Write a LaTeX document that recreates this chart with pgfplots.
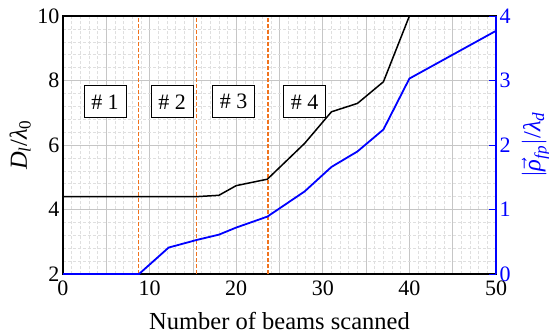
\documentclass[border=0pt]{standalone}
\usepackage{pgfplots}
\pgfplotsset{compat=1.18}
\usepackage{amsmath}
\usepackage{fontspec}
\setmainfont{Liberation Serif}
\definecolor{orng}{RGB}{240,115,30}
\begin{document}
\begin{tikzpicture}
\path[use as bounding box] (-63pt,-59pt) rectangle (486pt,274pt);
\begin{axis}[
 at={(0,0)}, anchor=south west,
 scale only axis, width=433pt, height=258pt,
 xmin=0, xmax=50, ymin=2, ymax=10,
 xtick={0,5,...,50}, xticklabels={0,,10,,20,,30,,40,,50},
 ytick={2,4,...,10},
 minor x tick num=4, minor y tick num=4,
 grid=both,
 major grid style={gray!45, line width=0.8pt},
 minor grid style={gray!25, dash pattern=on 3pt off 2pt, line width=0.6pt},
 axis line style={black, line width=1.5pt},
 tick style={draw=none},
 /pgf/number format/assume math mode=true,
 ticklabel style={font=\rmfamily\fontsize{22}{26}\selectfont},
 xticklabel style={yshift=-3pt},
 label style={font=\rmfamily\fontsize{24.5}{28}\selectfont},
 xlabel={Number of beams scanned},
 xlabel style={at={(axis description cs:0.5,0)}, anchor=base, yshift=-55pt},
 ylabel={\textit{D}$_{\text{\itshape l}}$/\textit{λ}$_{\text{0}}$},
 ylabel style={at={(axis description cs:-0.099,0.5)}, anchor=center},
 clip=true,
]
\addplot[orng, dash pattern=on 4pt off 2pt, line width=1.4pt] coordinates {(8.7,2) (8.7,10)};
\addplot[orng, dash pattern=on 4pt off 2pt, line width=1.4pt] coordinates {(15.45,2) (15.45,10)};
\addplot[orng, dash pattern=on 4pt off 2pt, line width=1.4pt] coordinates {(23.66,2) (23.66,10)};
\addplot[black, line width=1.5pt] coordinates {
(0,4.4) (8.7,4.4) (12.2,4.4) (15.5,4.4) (18,4.44) (20,4.74) (23.6,4.94)
(27.9,6.05) (31,7.03) (34,7.29) (37,7.96) (40,10) (41,10.5)};
\foreach \xx/\lab in {4.85/1, 12.6/2, 19.7/3, 27.9/4} {
 \edef\temp{\noexpand\node[draw=black, fill=white, line width=0.8pt, minimum width=42pt, minimum height=32pt, inner sep=0pt, font=\noexpand\rmfamily\noexpand\fontsize{22}{26}\noexpand\selectfont] at (axis cs:\xx,7.34) {\# \lab};}
 \temp
}
\end{axis}
\begin{axis}[
 at={(0,0)}, anchor=south west,
 scale only axis, width=433pt, height=258pt,
 xmin=0, xmax=50, ymin=0, ymax=4,
 axis x line=none,
 axis y line*=right,
 ytick={0,1,2,3,4},
 y axis line style={blue, line width=1.5pt},
 ytick style={blue, line width=1pt},
 tick align=inside, major tick length=7pt,
 /pgf/number format/assume math mode=true,
 yticklabel style={blue, font=\rmfamily\fontsize{22}{26}\selectfont},
 ylabel style={blue, font=\rmfamily\fontsize{24.5}{28}\selectfont, at={(axis description cs:1.092,0.5)}, anchor=center},
 ylabel={$|\vec{\text{\itshape ρ}}_{\text{\itshape fp}}|$/\textit{λ}$_{\text{\itshape d}}$},
]
\addplot[blue, line width=1.8pt] coordinates {
(0,0) (8.78,0) (12.2,0.41) (15.5,0.53) (18,0.61) (20,0.72) (23.6,0.89)
(27.9,1.28) (31,1.66) (34,1.90) (37,2.24) (40,3.03) (50,3.77)};
\end{axis}
\end{tikzpicture}
\end{document}
